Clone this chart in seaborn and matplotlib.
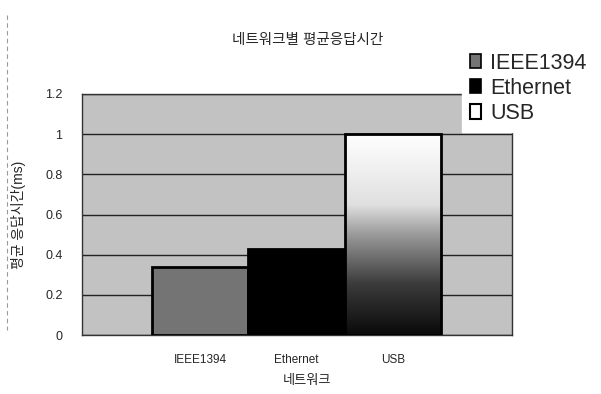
import numpy as np
import pandas as pd
import matplotlib
matplotlib.use("Agg")
import matplotlib.pyplot as plt
import seaborn as sns
from matplotlib.patches import Patch
from matplotlib.colors import LinearSegmentedColormap
from matplotlib.lines import Line2D

categories = ["IEEE1394", "Ethernet", "USB"]
values = [0.34, 0.43, 1.0]
yticks = [0, 0.2, 0.4, 0.6, 0.8, 1.0, 1.2]
ytick_labels = ["0", "0.2", "0.4", "0.6", "0.8", "1", "1.2"]
title = "네트워크별 평균응답시간"
xlabel = "네트워크"
ylabel = "평균 응답시간(ms)"

sns.set_theme(style="white")
plt.rcParams["font.family"] = ["Liberation Sans", "Noto Sans CJK KR"]

df = pd.DataFrame({"network": categories, "time": values})
colors = {"IEEE1394": "#747474", "Ethernet": "#000000", "USB": "#ffffff"}

fig = plt.figure(figsize=(6.01, 3.94), dpi=100)
ax = fig.add_axes([82/601, 1-335/394, 430/601, 241/394])
ax.set_facecolor("#c2c2c2")

sns.barplot(data=df, x="network", y="time", hue="network", palette=colors,
            width=1.0, dodge=False, legend=False, ax=ax,
            edgecolor="black", linewidth=2.0, zorder=3)

# gradient fill for USB bar
usb_patch = ax.patches[2]
bb = usb_patch.get_bbox()
cmap = LinearSegmentedColormap.from_list(
    "usbgrad", [(0.0, "#0a0a0a"), (0.25, "#3a3a3a"), (0.5, "#9a9a9a"),
                (0.65, "#e0e0e0"), (1.0, "#ffffff")])
grad = np.linspace(0, 1, 256).reshape(-1, 1)
im = ax.imshow(grad, cmap=cmap, origin="lower", aspect="auto",
               extent=[bb.x0, bb.x1, bb.y0, bb.y1], zorder=3.5)
im.set_clip_path(usb_patch)
usb_patch.set_facecolor("none")
usb_patch.set_zorder(4)

ax.set_xlim(-1.225, 3.236)
ax.set_ylim(0, 1.2)
ax.set_yticks(yticks)
ax.set_yticklabels(ytick_labels, fontsize=9)
ax.tick_params(axis="x", labelsize=8.5, pad=14, length=0)
ax.tick_params(axis="y", pad=14, length=0)
ax.yaxis.grid(True, color="#222222", linewidth=1.0, zorder=1)
ax.set_axisbelow(True)
ax.set_xlabel("")
ax.set_ylabel(ylabel, fontsize=10, labelpad=14)
for s in ax.spines.values():
    s.set_visible(True)
    s.set_color("#333333")
    s.set_linewidth(1.0)

fig.text(308/601, 1-40/394, title, ha="center", va="center", fontsize=10.5)
fig.text(307/601, 1-381/394, xlabel, ha="center", va="center", fontsize=9.5)

# faint scan border on the left
fig.add_artist(Line2D([7/601, 7/601], [1-15/394, 1-330/394],
                      transform=fig.transFigure, color="#9a9a9a",
                      linewidth=0.8, linestyle=(0, (4, 3))))

handles = [Patch(facecolor="#747474", edgecolor="black", linewidth=1.2),
           Patch(facecolor="#000000", edgecolor="black", linewidth=1.2),
           Patch(facecolor="#ffffff", edgecolor="black", linewidth=1.5)]
leg = fig.legend(handles, categories, loc="upper left",
                 bbox_to_anchor=(462/601, 1-45/394), fontsize=15.5,
                 frameon=True, fancybox=False, framealpha=1.0,
                 edgecolor="white", handlelength=0.55, handleheight=0.65,
                 handletextpad=0.4, labelspacing=0.2, borderpad=0.35,
                 borderaxespad=0)

fig.savefig("out.png", dpi=100)
